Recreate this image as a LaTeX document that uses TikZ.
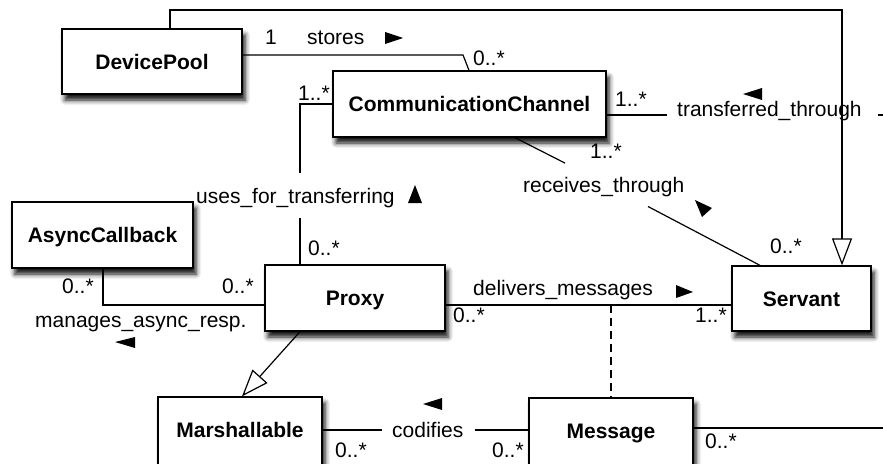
\documentclass[tikz,border=0pt]{standalone}
\usepackage{fontspec}
\setmainfont{Liberation Sans}
\usetikzlibrary{arrows.meta,shadows.blur}
\begin{document}
\begin{tikzpicture}[x=1pt,y=-1pt,
  cls/.style={draw, line width=1.3pt, fill=white,
    font=\fontsize{21}{25}\selectfont\bfseries,
    text height=15pt, text depth=0pt, inner sep=0pt,
    blur shadow={shadow xshift=3pt, shadow yshift=-6pt, shadow blur radius=5pt, shadow opacity=95}},
  lbl/.style={font=\fontsize{21}{25}\selectfont, inner sep=0pt, anchor=base west},
  conn/.style={line width=1.2pt},
  gen/.style={conn, -{Triangle[open,width=20pt,length=27pt,line width=1.2pt]}},
  dsh/.style={conn, dash pattern=on 8pt off 5pt},
  dirmark/.style={fill=black}
]
\useasboundingbox (0,0) rectangle (883,463);

% classes
\node[cls, minimum width=180pt, minimum height=65pt] (dp) at (152,61.5) {DevicePool};
\node[cls, minimum width=273pt, minimum height=66pt] (cc) at (469.5,104) {CommunicationChannel};
\node[cls, minimum width=181pt, minimum height=66pt] (ac) at (102.5,235) {AsyncCallback};
\node[cls, minimum width=180pt, minimum height=66pt] (px) at (355,298) {Proxy};
\node[cls, minimum width=139pt, minimum height=65pt] (sv) at (801.5,298.5) {Servant};
\node[cls, minimum width=164pt, minimum height=76pt, text depth=11pt] (ma) at (240,435) {Marshallable};
\node[cls, minimum width=164pt, minimum height=76pt, text depth=11pt] (msg) at (611,436) {Message};

% connectors
\draw[gen] (170,0 |- dp.north) -- (170,10) -- (842,10) -- (842,0 |- sv.north);
\draw[conn] (dp.east |- 0,55) -- (463,55) -- (469,0 |- cc.north);
\draw[conn] (cc.west |- 0,104) -- (300,104) -- (300,173);
\draw[conn] (300,218) -- (300,0 |- px.north);
\draw[conn] (cc.east |- 0,115) -- (667,115);
\draw[conn] (878,115) -- (890,115);
\draw[conn] (515,0 |- cc.south) -- (565,163.1);
\draw[conn] (648,206.5) -- (760,0 |- sv.north);
\draw[conn] (103,0 |- ac.south) |- (px.west |- 0,305);
\draw[conn] (px.east |- 0,305) -- (sv.west |- 0,305);
\draw[dsh] (611,305) -- (611,0 |- msg.north);
\draw[gen] (300,0 |- px.south) -- (242,0 |- ma.north);
\draw[conn] (ma.east |- 0,430) -- (382,430);
\draw[conn] (475,430) -- (msg.west |- 0,430);
\draw[conn] (msg.east |- 0,428) -- (890,428);

% labels
\node[lbl] (l1) at (265,44) {1};
\node[lbl] (lstores) at (307,44) {stores};
\node[lbl] (l2) at (473,65) {0..*};
\node[lbl] (l3) at (298,100) {1..*};
\node[lbl] (l4) at (615,106) {1..*};
\node[lbl] (l5) at (590,158) {1..*};
\node[lbl] (ltrans) at (677,116) {transferred\_through};
\node[lbl] (luses) at (196,203) {uses\_for\_transferring};
\node[lbl] (lrecv) at (523,192) {receives\_through};
\node[lbl] (l6) at (308,255) {0..*};
\node[lbl] (l7) at (62,293) {0..*};
\node[lbl] (l8) at (222,293) {0..*};
\node[lbl] (lman) at (35,327) {manages\_async\_resp.};
\node[lbl] (ldel) at (473,295) {delivers\_messages};
\node[lbl] (l9) at (453,322) {0..*};
\node[lbl] (l10) at (695,322) {1..*};
\node[lbl] (l11) at (770,253) {0..*};
\node[lbl] (lcod) at (392,437) {codifies};
\node[lbl] (l12) at (335,457) {0..*};
\node[lbl] (l13) at (492,457) {0..*};
\node[lbl] (l14) at (705,448) {0..*};

% reading-direction marks
\fill[dirmark] (403,38) -- (385,32) -- (385,44) -- cycle;
\fill[dirmark] (743,94) -- (762,88) -- (762,100) -- cycle;
\fill[dirmark] (415,185) -- (408,203) -- (422,203) -- cycle;
\fill[dirmark] (695,200) -- (712,208) -- (702,217) -- cycle;
\fill[dirmark] (115,342) -- (135,337) -- (135,348) -- cycle;
\fill[dirmark] (423,404) -- (442,398) -- (442,410) -- cycle;
\fill[dirmark] (693,292) -- (676,285) -- (676,298) -- cycle;
\end{tikzpicture}
\end{document}
